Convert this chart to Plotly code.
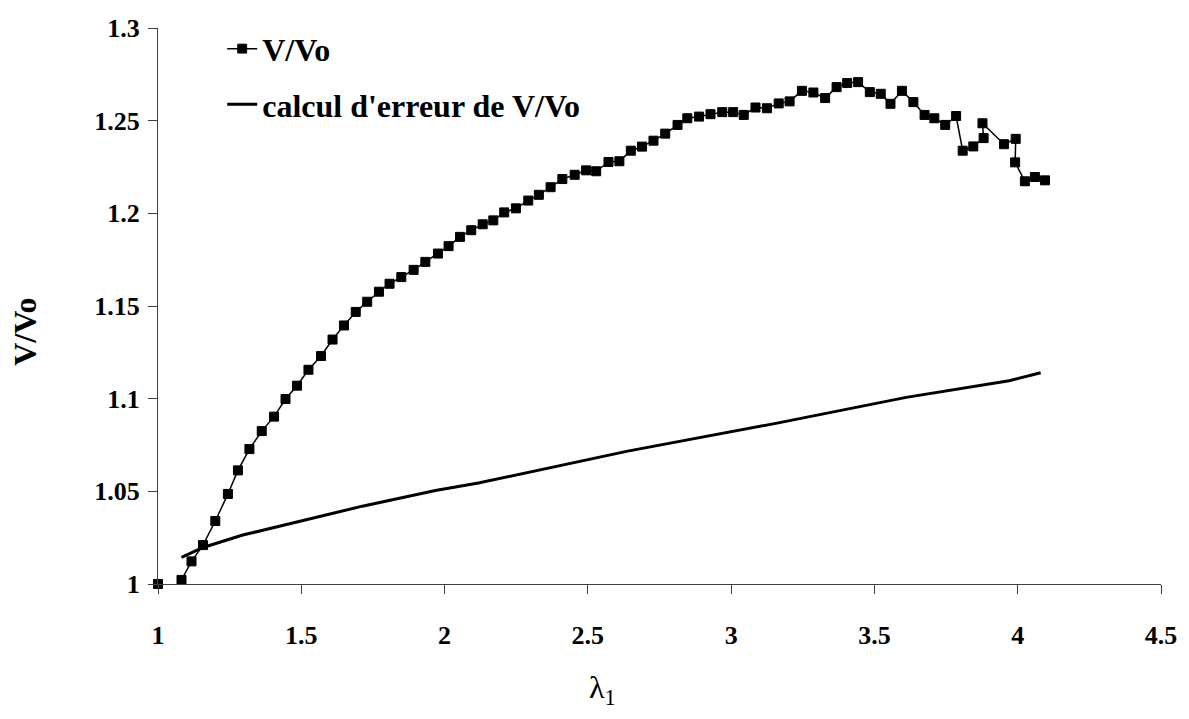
import plotly.graph_objects as go

# Series "V/Vo" (measured)
lam = [1.000, 1.035, 1.082, 1.117, 1.157, 1.200, 1.244, 1.279, 1.319, 1.362, 1.405,
       1.445, 1.485, 1.525, 1.569, 1.609, 1.649, 1.690, 1.730, 1.771, 1.808,
       1.849, 1.892, 1.933, 1.977, 2.014, 2.054, 2.093, 2.133, 2.170, 2.208,
       2.249, 2.292, 2.329, 2.370, 2.411, 2.454, 2.494, 2.529, 2.572, 2.610,
       2.650, 2.689, 2.729, 2.770, 2.813, 2.847, 2.888, 2.928, 2.969, 3.007,
       3.044, 3.085, 3.125, 3.166, 3.204, 3.247, 3.287, 3.328, 3.368, 3.405,
       3.443, 3.484, 3.522, 3.556, 3.596, 3.636, 3.675, 3.709, 3.747, 3.785,
       3.808, 3.845, 3.881, 3.877, 3.952, 3.993, 3.991, 4.025, 4.060, 4.095]
v_ratio = [1.0000, 0.9900, 1.0022, 1.0122, 1.0210, 1.0340, 1.0486, 1.0613, 1.0728, 1.0825, 1.0903,
           1.0998, 1.1070, 1.1156, 1.1230, 1.1319, 1.1395, 1.1468, 1.1523, 1.1577, 1.1620,
           1.1656, 1.1695, 1.1738, 1.1783, 1.1823, 1.1873, 1.1909, 1.1941, 1.1962, 1.2005,
           1.2027, 1.2069, 1.2100, 1.2141, 1.2185, 1.2208, 1.2232, 1.2227, 1.2277, 1.2281,
           1.2338, 1.2360, 1.2392, 1.2430, 1.2477, 1.2513, 1.2522, 1.2535, 1.2546, 1.2546,
           1.2531, 1.2571, 1.2567, 1.2593, 1.2604, 1.2661, 1.2652, 1.2622, 1.2681, 1.2703,
           1.2708, 1.2654, 1.2645, 1.2591, 1.2661, 1.2600, 1.2531, 1.2513, 1.2477, 1.2525,
           1.2338, 1.2361, 1.2406, 1.2486, 1.2373, 1.2402, 1.2275, 1.2173, 1.2196, 1.2178]

# Series "calcul d'erreur de V/Vo"
lam_err = [1.082, 1.157, 1.296, 1.400, 1.551, 1.713, 1.968, 2.118, 2.639, 3.090, 3.160, 3.611, 3.970, 4.080]
v_err = [1.0144, 1.0197, 1.0264, 1.0303, 1.0362, 1.0420, 1.0505, 1.0545, 1.0717, 1.0846, 1.0868, 1.1007, 1.1097, 1.1140]

x_ticks = [1, 1.5, 2, 2.5, 3, 3.5, 4, 4.5]
y_ticks = [1, 1.05, 1.1, 1.15, 1.2, 1.25, 1.3]

SERIF = "Liberation Serif"

marker_sizes = [9] * len(lam)
marker_sizes[1] = 0  # point below the axis range, only its line shows
marker_lines = [1] * len(lam)
marker_lines[1] = 0

fig = go.Figure()
fig.add_trace(go.Scatter(
    x=lam, y=v_ratio, mode="lines+markers", name="V/Vo",
    line=dict(color="black", width=1.5),
    marker=dict(symbol="square", size=marker_sizes, color="black", opacity=1,
                line=dict(color="black", width=marker_lines)),
    cliponaxis=False, legendgroup="a",
))
fig.add_trace(go.Scatter(
    x=lam_err, y=v_err, mode="lines", name="calcul d'erreur de V/Vo",
    line=dict(color="black", width=3),
    legendgroup="b",
))

axis_common = dict(
    showgrid=False, zeroline=False, showline=True, linecolor="#404040", linewidth=1,
    ticks="outside", ticklen=9, tickcolor="#404040", tickwidth=1,
    tickfont=dict(family=SERIF, size=26, color="black", weight="bold"),
)

fig.update_layout(
    width=1189, height=719,
    margin=dict(l=158, r=23, t=28, b=135),
    paper_bgcolor="white", plot_bgcolor="white",
    xaxis=dict(range=[1, 4.5], tickvals=x_ticks, ticktext=[f"{t:g}" for t in x_ticks],
               ticklabelstandoff=19, **axis_common),
    yaxis=dict(range=[1, 1.3], tickvals=y_ticks, ticktext=[f"{t:g}" for t in y_ticks],
               ticklabelstandoff=3, **axis_common),
    legend=dict(x=0.064, y=1.012, xanchor="left", yanchor="top",
                font=dict(family=SERIF, size=32, color="black", weight="bold"),
                bgcolor="rgba(0,0,0,0)", traceorder="grouped", tracegroupgap=11),
    showlegend=True,
    annotations=[
        dict(text="V/Vo", xref="paper", yref="paper", x=-0.132, y=0.453,
             textangle=-90, showarrow=False, xanchor="center", yanchor="middle",
             font=dict(family=SERIF, size=32, color="black", weight="bold")),
        dict(text="λ<sub>1</sub>", xref="paper", yref="paper", x=0.443, y=-0.19,
             showarrow=False, xanchor="center", yanchor="middle",
             font=dict(family=SERIF, size=32, color="black")),
    ],
)

fig.write_html("out.html", config={"displayModeBar": False},
               post_script="document.body.style.margin='0';document.body.style.overflow='hidden';")
